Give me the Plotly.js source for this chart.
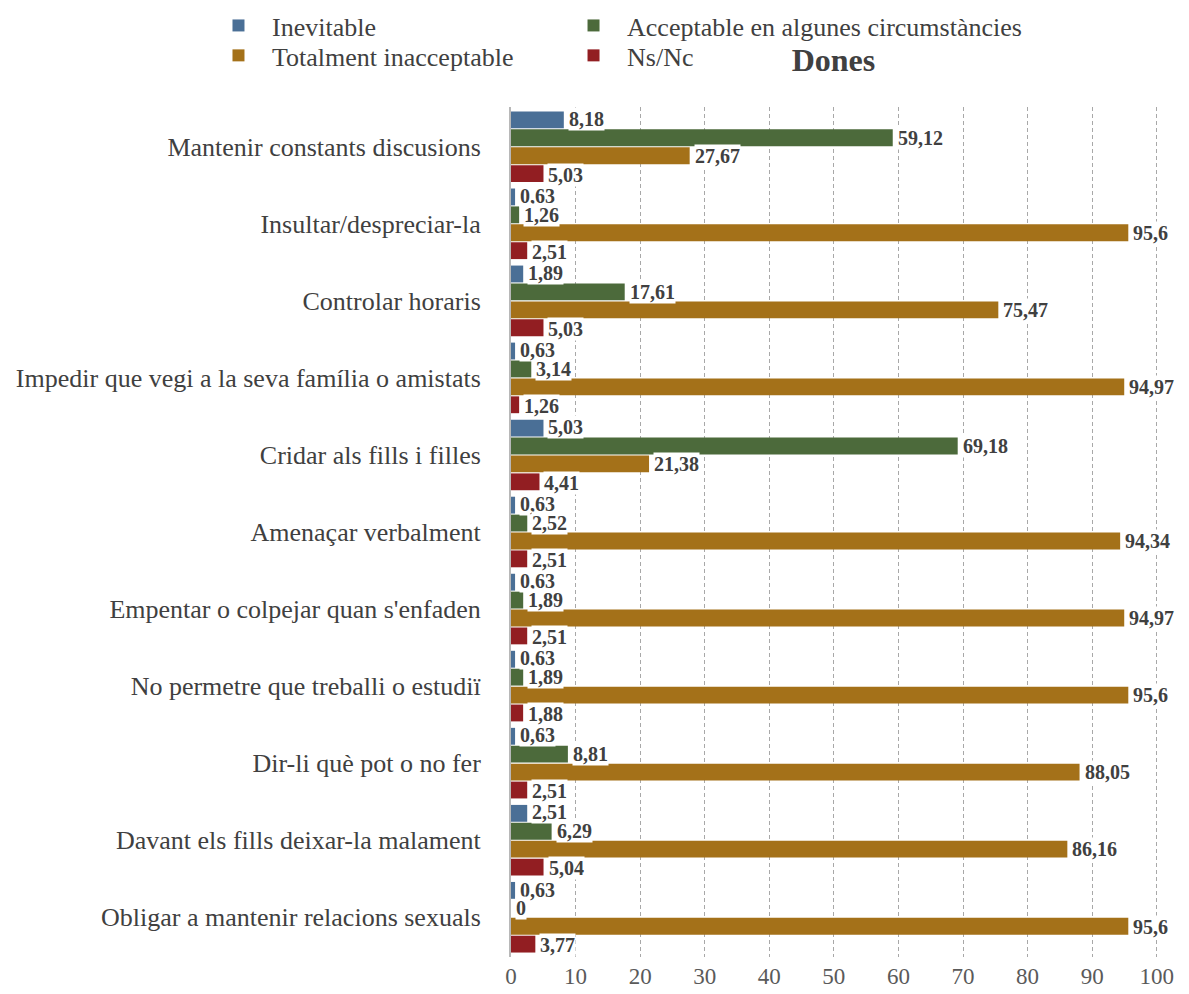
<!DOCTYPE html>
<html>
<head>
<meta charset="utf-8">
<script src="https://cdn.plot.ly/plotly-3.0.1.min.js"></script>
<style>html,body{margin:0;padding:0;background:#fff;}#chart{width:1189px;height:994px;}</style>
</head>
<body>
<div id="chart"></div>
<script>
const categories = [
  "Mantenir constants discusions",
  "Insultar/despreciar-la",
  "Controlar horaris",
  "Impedir que vegi a la seva família o amistats",
  "Cridar als fills i filles",
  "Amenaçar verbalment",
  "Empentar o colpejar quan s'enfaden",
  "No permetre que treballi o estudiï",
  "Dir-li què pot o no fer",
  "Davant els fills deixar-la malament",
  "Obligar a mantenir relacions sexuals"
];
const seriesNames = ["Inevitable", "Acceptable en algunes circumstàncies", "Totalment inacceptable", "Ns/Nc"];
const inevitable   = [8.18, 0.63, 1.89, 0.63, 5.03, 0.63, 0.63, 0.63, 0.63, 2.51, 0.63];
const acceptable   = [59.12, 1.26, 17.61, 3.14, 69.18, 2.52, 1.89, 1.89, 8.81, 6.29, 0];
const inacceptable = [27.67, 95.6, 75.47, 94.97, 21.38, 94.34, 94.97, 95.6, 88.05, 86.16, 95.6];
const nsnc         = [5.03, 2.51, 5.03, 1.26, 4.41, 2.51, 2.51, 1.88, 2.51, 5.04, 3.77];
const xTicks = [0, 10, 20, 30, 40, 50, 60, 70, 80, 90, 100];
const chartTitle = "Dones";

const seriesValues = [inevitable, acceptable, inacceptable, nsnc];
const colors = ["#4a6f96", "#4c6a3b", "#a47119", "#921e22"];
const legendIds = ["legend", "legend2", "legend3", "legend4"];
const FONT = '"Liberation Serif", "Times New Roman", serif';

const traces = seriesValues.map((vals, i) => ({
  type: "bar",
  orientation: "h",
  name: seriesNames[i],
  x: vals,
  y: categories,
  legend: legendIds[i],
  marker: {color: colors[i]},
  hoverinfo: "x+name"
}));

const pitch = 18.5;
const annotations = [];
seriesValues.forEach((vals, i) => {
  vals.forEach((v, j) => {
    annotations.push({
      x: v, y: categories[j], xref: "x", yref: "y",
      text: String(v).replace(".", ","),
      showarrow: false, xanchor: "left", yanchor: "middle",
      xshift: 4, yshift: (1.5 - i) * pitch,
      bgcolor: "#ffffff", borderpad: 0,
      font: {family: FONT, size: 20, color: "#404040", weight: "bold"}
    });
  });
});

function legendAt(x, y) {
  return {
    orientation: "v", xref: "container", yref: "container",
    x: x, xanchor: "left", y: y, yanchor: "middle",
    itemwidth: 57,
    font: {family: FONT, size: 26, color: "#404040"},
    bgcolor: "rgba(0,0,0,0)", borderwidth: 0
  };
}

const layout = {
  width: 1189, height: 994,
  margin: {l: 511, r: 31, t: 107, b: 37, autoexpand: false},
  paper_bgcolor: "#fff", plot_bgcolor: "#fff",
  barmode: "group", bargap: 0.07, bargroupgap: 0.06,
  separators: ",.",
  font: {family: FONT, color: "#404040"},
  title: {
    text: "<b>" + chartTitle + "</b>", xref: "container", yref: "container",
    x: 0.701, xanchor: "center", y: 0.94, yanchor: "middle",
    font: {family: FONT, size: 32, color: "#404040"}
  },
  xaxis: {
    range: [0, 100.2], tickvals: xTicks, ticktext: xTicks.map(String),
    showgrid: true, gridcolor: "#a8a8a8", griddash: "4px,3px", gridwidth: 1,
    zeroline: false, showline: false, ticks: "", ticklabelstandoff: 3,
    tickfont: {family: FONT, size: 23, color: "#5a5a5a"}
  },
  yaxis: {
    autorange: "reversed", type: "category",
    showline: true, linecolor: "#b8b8b8", linewidth: 2,
    showgrid: false, ticks: "", ticklabelstandoff: 23,
    tickfont: {family: FONT, size: 26, color: "#404040"}
  },
  showlegend: true,
  legend: legendAt(0.1724, 0.9743),
  legend2: legendAt(0.471, 0.9743),
  legend3: legendAt(0.1724, 0.9442),
  legend4: legendAt(0.471, 0.9442),
  annotations: annotations
};

Plotly.newPlot("chart", traces, layout, {displayModeBar: false, responsive: false});
</script>
</body>
</html>
